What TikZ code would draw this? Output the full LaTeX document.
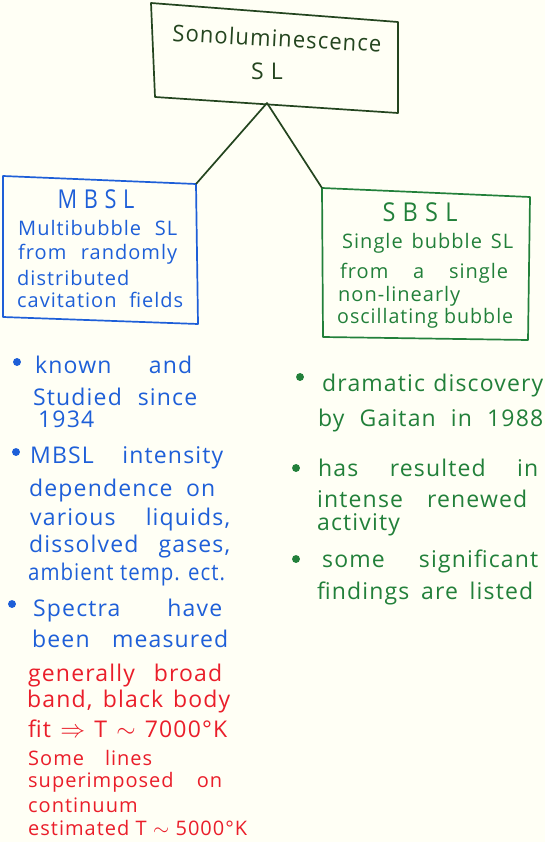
\documentclass[tikz,border=0pt]{standalone}
\usepackage{graphicx}
\usepackage{fontspec}
\setmainfont[LetterSpace=5]{Open Sans}
\definecolor{bgc}{HTML}{FFFFF5}
\definecolor{dkg}{HTML}{24451F}
\definecolor{blu}{HTML}{1E5FD8}
\definecolor{grn}{HTML}{22803A}
\definecolor{rdd}{HTML}{EA1E2A}
\newsavebox\fitbox
\newcommand\spr[2]{\sbox\fitbox{#2}\ifdim\wd\fitbox>#1pt\relax\resizebox{#1pt}{\height}{\usebox\fitbox}\else\makebox[#1pt][s]{#2}\fi}
\begin{document}
\begin{tikzpicture}[x=1pt,y=-1pt,
  boxline/.style={line width=1.7pt, line join=round},
  lft/.style={anchor=west, inner sep=0pt},
  btxt/.style={lft, font=\fontsize{23}{23}\selectfont},
  rtxt/.style={lft, font=\fontsize{20}{20}\selectfont},
  ctxt/.style={lft, font=\fontsize{20}{20}\selectfont},
  dot/.style={circle, fill, inner sep=2.8pt}]
\fill[bgc] (0,0) rectangle (545,842);
\useasboundingbox (0,0) rectangle (545,842);
% top box
\coordinate (tTL) at (151,3);
\coordinate (tTR) at (398,22);
\coordinate (tBR) at (398,113);
\coordinate (tBL) at (155,97);
\coordinate (tb) at (267,103);
\draw[boxline, dkg] (tTL) -- (tTR) -- (tBR) -- (tBL) -- cycle;
\node[dkg, font=\fontsize{23}{23}\selectfont, rotate=-3, inner sep=0pt] (t1) at (277,38) {\spr{209}{Sonoluminescence}};
\node[dkg, font=\fontsize{23}{23}\selectfont, inner sep=0pt] (t2) at (267,71) {S L};
% MBSL box
\coordinate (mTL) at (3,176);
\coordinate (mTR) at (196,184);
\coordinate (mBR) at (198,324);
\coordinate (mBL) at (3,317);
\draw[boxline, blu] (mTL) -- (mTR) -- (mBR) -- (mBL) -- cycle;
\node[blu, font=\fontsize{26}{26}\selectfont, inner sep=0pt] (m0) at (96,199) {\spr{77}{M B S L}};
\node[ctxt, blu] (m1) at (18,228) {\spr{159}{Multibubble SL}};
\node[ctxt, blu] (m2) at (18,254) {\spr{159}{from randomly}};
\node[ctxt, blu] (m3) at (17,278) {\spr{120}{distributed}};
\node[ctxt, blu] (m4) at (17,300) {\spr{166}{cavitation fields}};
% SBSL box
\coordinate (sTL) at (322,188);
\coordinate (sTR) at (530,197);
\coordinate (sBR) at (528,340);
\coordinate (sBL) at (323,337);
\draw[boxline, grn] (sTL) -- (sTR) -- (sBR) -- (sBL) -- cycle;
\node[grn, font=\fontsize{26}{26}\selectfont, inner sep=0pt] (s0) at (420,212) {\spr{75}{S B S L}};
\node[ctxt, grn] (s1) at (342,243) {\spr{171}{Single bubble SL}};
\node[ctxt, grn] (s2) at (340,273) {\spr{168}{from a single}};
\node[ctxt, grn] (s3) at (338,296) {\spr{139}{non-linearly}};
\node[ctxt, grn] (s4) at (337,318) {\spr{176}{oscillating bubble}};
% connectors
\draw[boxline, dkg] (mTR) -- (tb) -- (sTL);
% left bullets
\node[dot, blu] (lb1) at (17,362) {};
\node[dot, blu] (lb2) at (16,452) {};
\node[dot, blu] (lb3) at (12,604) {};
\node[btxt, blu] (l1) at (35,365) {\spr{157}{known and}};
\node[btxt, blu] (l2) at (33,397) {\spr{164}{Studied since}};
\node[btxt, blu] (l3) at (38,419) {1934};
\node[btxt, blu] (l4) at (30,458) {\spr{193}{MBSL intensity}};
\node[btxt, blu] (l5) at (29,491) {\spr{186}{dependence on}};
\node[btxt, blu] (l6) at (30,520) {\spr{200}{various liquids,}};
\node[btxt, blu] (l7) at (29,547) {\spr{201}{dissolved gases,}};
\node[btxt, blu] (l8) at (28,575) {\spr{197}{ambient temp. ect.}};
\node[btxt, blu] (l9) at (33,611) {\spr{189}{Spectra have}};
\node[btxt, blu] (l10) at (32,639) {\spr{196}{been measured}};
\node[btxt, rdd] (l11) at (28,676) {\spr{194}{generally broad}};
\node[btxt, rdd] (l12) at (27,702) {\spr{203}{band, black body}};
\node[btxt, rdd] (l13) at (28,729) {\spr{199}{fit $\Rightarrow$ T $\sim$ 7000°K}};
\node[rtxt, rdd] (l14) at (28,758) {\spr{124}{Some lines}};
\node[rtxt, rdd] (l15) at (28,782) {\spr{194}{superimposed on}};
\node[rtxt, rdd] (l16) at (28,805) {\spr{115}{continuum}};
\node[rtxt, rdd] (l17) at (28,828) {\spr{219}{estimated T $\sim$ 5000°K}};
% right bullets
\node[dot, grn] (rb1) at (300,377) {};
\node[dot, grn] (rb2) at (296,468) {};
\node[dot, grn] (rb3) at (296,559) {};
\node[btxt, grn] (r1) at (322,386) {\spr{221}{dramatic discovery}};
\node[btxt, grn] (r2) at (318,421) {\spr{225}{by Gaitan in 1988}};
\node[btxt, grn] (r3) at (318,468) {\spr{220}{has resulted in}};
\node[btxt, grn] (r4) at (317,499) {\spr{210}{intense renewed}};
\node[btxt, grn] (r5) at (317,525) {\spr{93}{activity}};
\node[btxt, grn] (r6) at (322,561) {\spr{216}{some significant}};
\node[btxt, grn] (r7) at (317,593) {\spr{216}{findings are listed}};
\end{tikzpicture}
\end{document}
